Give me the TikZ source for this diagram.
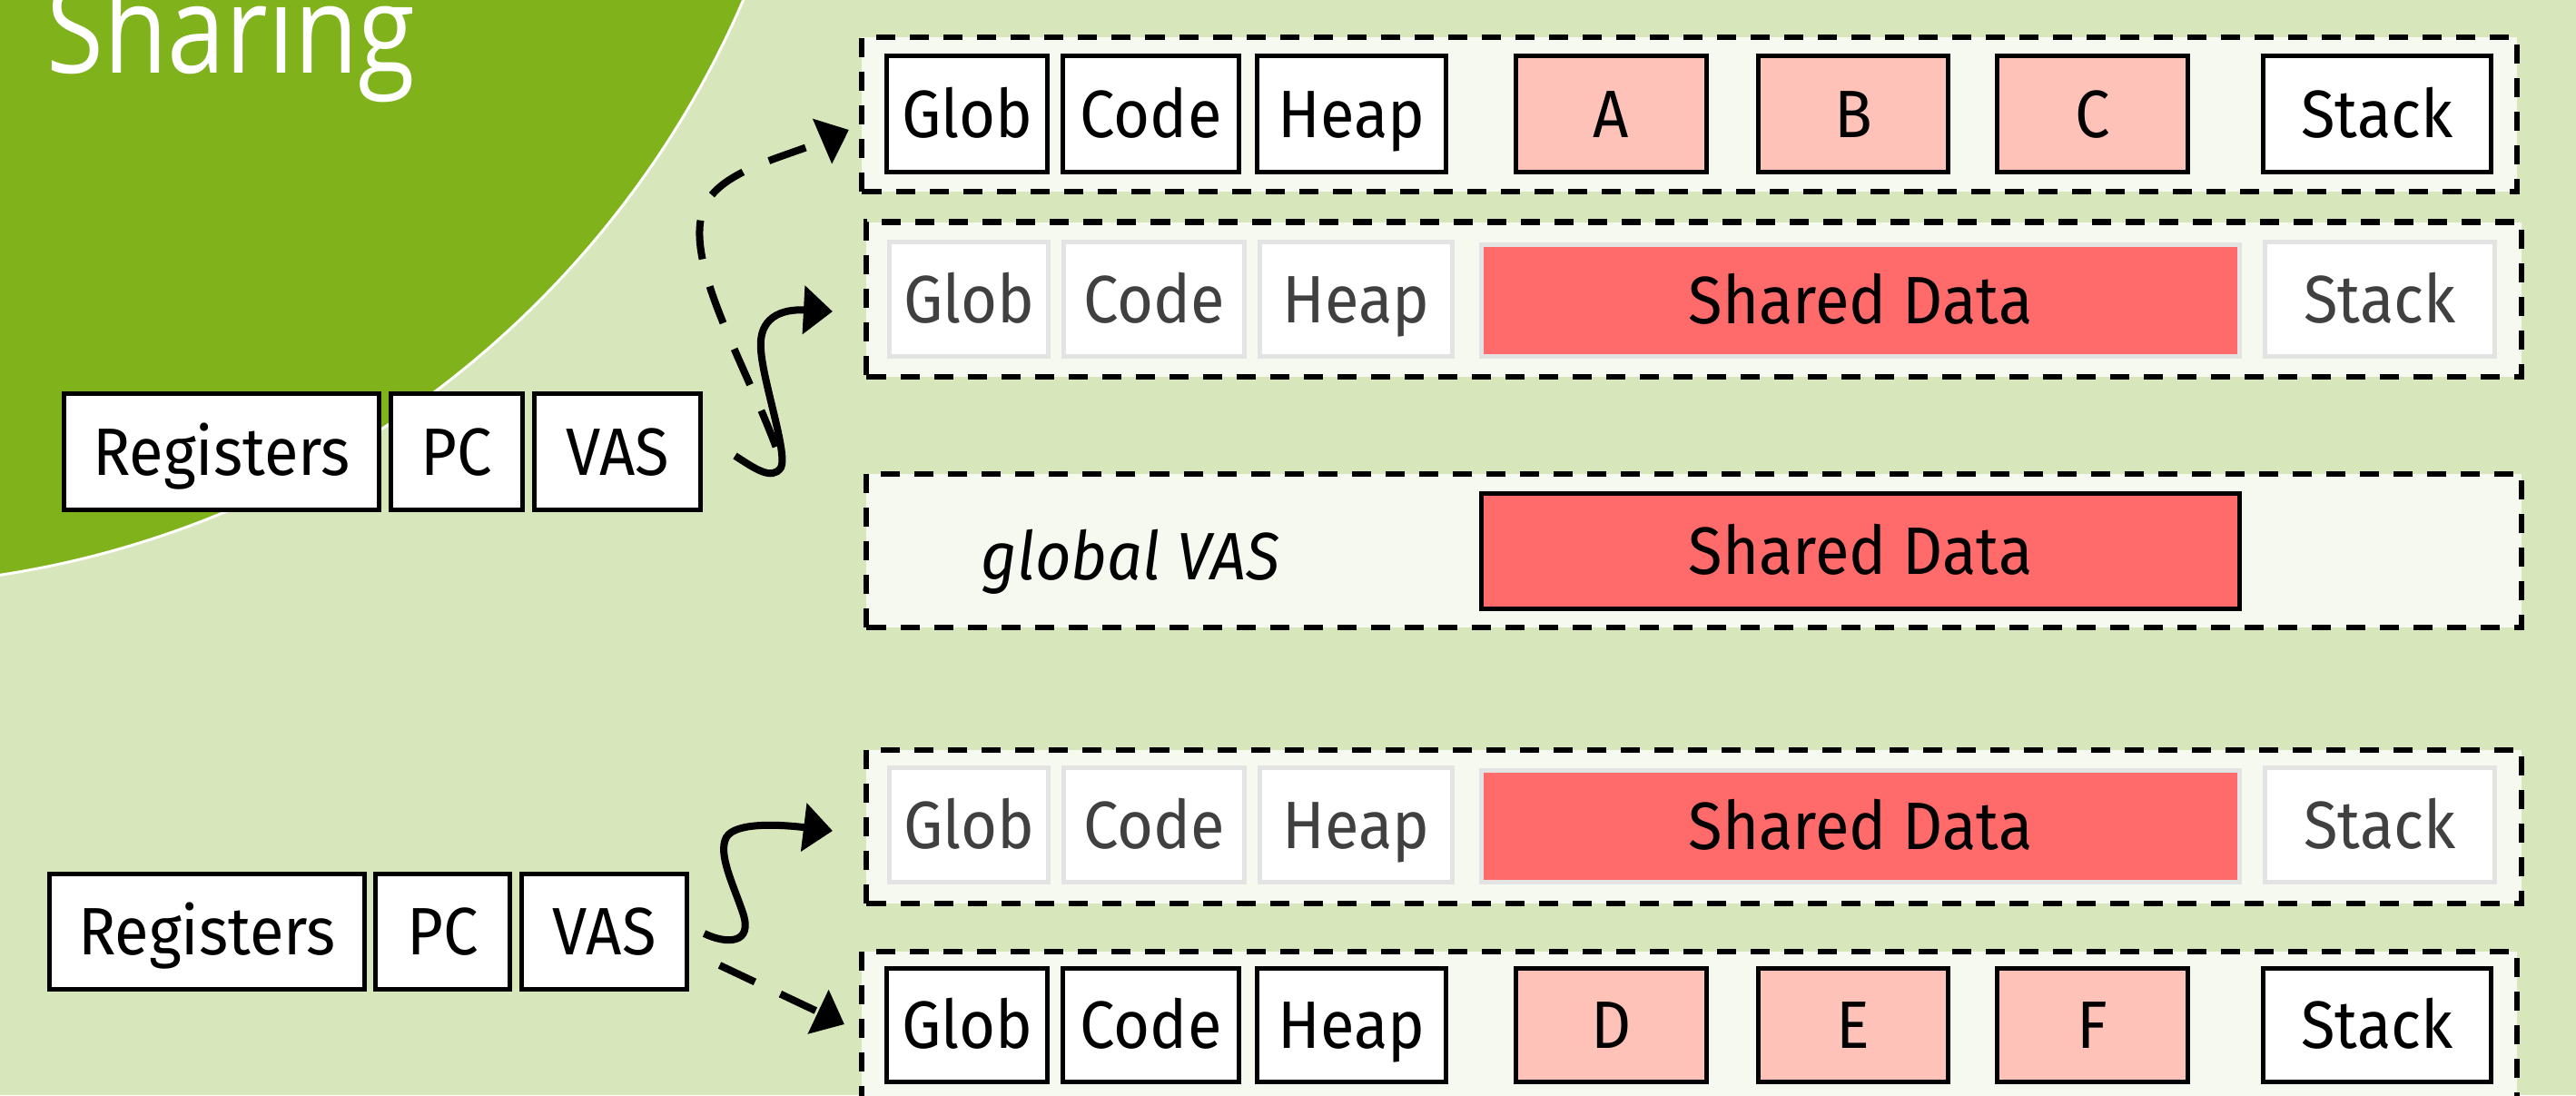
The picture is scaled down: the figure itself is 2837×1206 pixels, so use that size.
\documentclass[tikz,border=0pt]{standalone}
\usepackage{fontspec}
\setmainfont{Fira Sans}[FakeStretch=0.93]
\newfontfamily\titlefont{Open Sans}[FakeStretch=0.85]
\usetikzlibrary{arrows.meta,calc}

\definecolor{bggreen}{HTML}{D8E6BB}
\definecolor{darkgreen}{HTML}{80B21C}
\definecolor{contfill}{HTML}{F6F9F0}
\definecolor{privfill}{HTML}{FFC2B8}
\definecolor{sharedfill}{HTML}{FF6B6B}
\definecolor{fadeline}{HTML}{E3E3E3}
\definecolor{fadetext}{HTML}{404040}

% box given by its outer corners (x1,y1)-(x2,y2) in pixel units
\newcommand\placebox[7]{%
  \pgfmathsetmacro\mbw{(#5-#3-5)*0.01}%
  \pgfmathsetmacro\mbh{(#6-#4-5)*0.01}%
  \node[#1, minimum width=\mbw cm, minimum height=\mbh cm] (#2) at ({(#3+#5)/2},{(#4+#6)/2}) {#7};}

\tikzset{
  lbl/.style={font=\fontsize{21}{25}\selectfont, text height=0.51cm, text depth=0cm, inner sep=0pt},
  solidbox/.style={lbl, draw=black, line width=0.05cm, fill=white},
  privbox/.style={solidbox, fill=privfill},
  sharedbox/.style={solidbox, fill=sharedfill},
  fadebox/.style={lbl, draw=fadeline, line width=0.05cm, fill=white, text=fadetext},
  fadeshared/.style={fadebox, fill=sharedfill, text=black},
  vasrow/.style={draw=black, fill=contfill, line width=0.06cm, dash pattern=on 0.21cm off 0.16cm},
  linkarrow/.style={line width=0.08cm, -{Triangle[length=0.32cm,width=0.52cm]}},
  linkdashed/.style={linkarrow, dash pattern=on 0.43cm off 0.31cm},
}

\begin{document}
\begin{tikzpicture}[x=0.01cm, y=-0.01cm]
\useasboundingbox (0,0) rectangle (2837,1206);
\clip (0,0) rectangle (2837,1206);
\fill[bggreen] (0,0) rectangle (2837,1206);

% title disc
\draw[fill=darkgreen, draw=white, line width=0.03cm] (-163,-423) circle[radius=10.68cm];
\node[anchor=base west, inner sep=0pt, text=white,
      font=\titlefont\fontsize{38.3}{46}\selectfont] (title) at (51,80) {Sharing};

% address space rows
\placebox{vasrow}{rowA}{947}{39}{2774}{213}{}
\placebox{vasrow}{rowB}{952}{242}{2779}{417}{}
\placebox{vasrow}{rowC}{952}{519}{2779}{693}{}
\placebox{vasrow}{rowD}{952}{823}{2779}{997}{}
\placebox{vasrow}{rowE}{947}{1045}{2774}{1219}{}

% private address space, first thread
\placebox{solidbox}{aGlob}{974}{59}{1156}{192}{Glob}
\placebox{solidbox}{aCode}{1168}{59}{1367}{192}{Code}
\placebox{solidbox}{aHeap}{1382}{59}{1595}{192}{Heap}
\placebox{privbox}{aA}{1667}{59}{1882}{192}{A}
\placebox{privbox}{aB}{1934}{59}{2148}{192}{B}
\placebox{privbox}{aC}{2197}{59}{2412}{192}{C}
\placebox{solidbox}{aStack}{2490}{59}{2746}{192}{Stack}

% address space with shared region, first thread
\placebox{fadebox}{bGlob}{977}{264}{1157}{395}{Glob}
\placebox{fadebox}{bCode}{1169}{264}{1373}{395}{Code}
\placebox{fadebox}{bHeap}{1385}{264}{1602}{395}{Heap}
\placebox{fadeshared}{bShared}{1629}{267}{2469}{395}{Shared Data}
\placebox{fadebox}{bStack}{2492}{264}{2750}{395}{Stack}

% global address space
\node[lbl, font=\fontsize{21}{25}\selectfont\itshape, anchor=base] (gvas) at (1245,638) {global VAS};
\placebox{sharedbox}{cShared}{1629}{541}{2469}{673}{Shared Data}

% address space with shared region, second thread
\placebox{fadebox}{dGlob}{977}{843}{1157}{974}{Glob}
\placebox{fadebox}{dCode}{1169}{843}{1373}{974}{Code}
\placebox{fadebox}{dHeap}{1385}{843}{1602}{974}{Heap}
\placebox{fadeshared}{dShared}{1629}{846}{2469}{974}{Shared Data}
\placebox{fadebox}{dStack}{2492}{843}{2750}{974}{Stack}

% private address space, second thread
\placebox{solidbox}{eGlob}{974}{1064}{1156}{1194}{Glob}
\placebox{solidbox}{eCode}{1168}{1064}{1367}{1194}{Code}
\placebox{solidbox}{eHeap}{1382}{1064}{1595}{1194}{Heap}
\placebox{privbox}{eD}{1667}{1064}{1882}{1194}{D}
\placebox{privbox}{eE}{1934}{1064}{2148}{1194}{E}
\placebox{privbox}{eF}{2197}{1064}{2412}{1194}{F}
\placebox{solidbox}{eStack}{2490}{1064}{2746}{1194}{Stack}

% thread contexts
\placebox{solidbox}{regA}{68}{431}{420}{564}{Registers}
\placebox{solidbox}{pcA}{428}{431}{578}{564}{PC}
\placebox{solidbox}{vasA}{586}{431}{774}{564}{VAS}
\placebox{solidbox}{regB}{52}{960}{404}{1092}{Registers}
\placebox{solidbox}{pcB}{411}{960}{564}{1092}{PC}
\placebox{solidbox}{vasB}{572}{960}{759}{1092}{VAS}

% links from the VAS registers
\draw[linkdashed] ($(vasA.east)+(80.5,-5.5)$) .. controls (820,400) and (760,300) .. (772,240)
  .. controls (780,190) and (860,175) .. ($(rowA.west)+(-11.5,17)$);
\draw[linkarrow] ($(vasA.east)+(35.5,4.5)$) .. controls (830,515) and (850,530) .. (860,515)
  .. controls (868,500) and (840,420) .. (838,385)
  .. controls (835,350) and (860,340) .. ($(rowB.west)+(-34.5,13.5)$);
\draw[linkarrow] ($(vasB.east)+(16.5,2)$) .. controls (800,1040) and (830,1040) .. (818,1005)
  .. controls (808,975) and (790,940) .. (800,922)
  .. controls (810,905) and (860,908) .. ($(rowD.west)+(-34.5,5)$);
\draw[linkdashed] ($(vasB.east)+(33.5,37)$) -- ($(rowE.west)+(-16.5,-4)$);
\end{tikzpicture}
\end{document}
